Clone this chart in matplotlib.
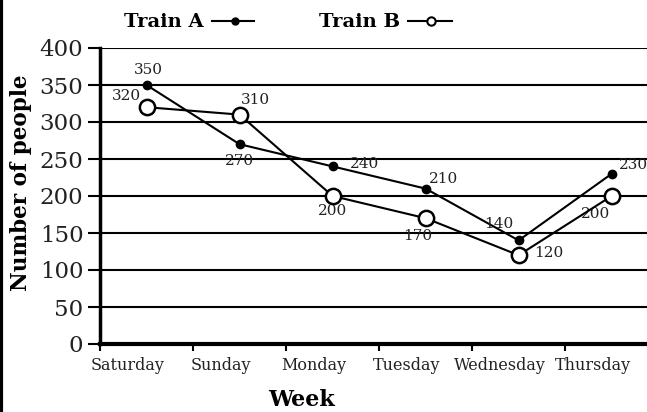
import matplotlib.pyplot as plt
from matplotlib.lines import Line2D

# data
days = ["Saturday", "Sunday", "Monday", "Tuesday", "Wednesday", "Thursday"]
train_a = [350, 270, 240, 210, 140, 230]
train_b = [320, 310, 200, 170, 120, 200]
y_ticks = [0, 50, 100, 150, 200, 250, 300, 350, 400]

# label offsets in pixels (label placement around each point)
off_a = [(2, 15), (0, -17), (32, 2), (18, 10), (-20, 16), (22, 9)]
off_b = [(-20, 11), (16, 15), (0, -15), (-8, -18), (30, 2), (-16, -18)]

fig = plt.figure(figsize=(6.47, 4.12), dpi=100)
ax = fig.add_axes([100 / 647, 68 / 412, 547 / 647, 296 / 412])

xs = [i + 0.5 for i in range(len(days))]

ax.plot(xs, train_a, color='black', lw=1.5, marker='o', markersize=6,
        markerfacecolor='black', zorder=3)
ax.plot(xs, train_b, color='black', lw=1.5, marker='o', markersize=11,
        markerfacecolor='white', markeredgewidth=1.8, zorder=4)

for x, v, o in zip(xs, train_a, off_a):
    ax.annotate(str(v), (x, v), xytext=o, textcoords='offset pixels',
                ha='center', va='center', fontsize=11, family='DejaVu Serif',
                color='#222222')
for x, v, o in zip(xs, train_b, off_b):
    ax.annotate(str(v), (x, v), xytext=o, textcoords='offset pixels',
                ha='center', va='center', fontsize=11, family='DejaVu Serif',
                color='#222222')

ax.set_xlim(0, 5.88)
ax.set_ylim(0, 400)
ax.set_yticks(y_ticks)
ax.set_yticklabels([str(t) for t in y_ticks], family='DejaVu Serif', fontsize=16.5,
                   color='#222222', fontweight='light')
ax.yaxis.grid(True, color='black', lw=1.5)
ax.set_axisbelow(True)

ax.set_xticks(range(len(days)))
ax.set_xticklabels([])
ax.set_xticks([i + 0.3 for i in range(len(days))], minor=True)
ax.set_xticklabels(days, minor=True, family='DejaVu Serif', fontsize=11.5,
                   color='#222222')
ax.tick_params(axis='x', which='major', length=5, width=1.5, direction='out')
ax.tick_params(axis='x', which='minor', length=0, pad=9)
ax.tick_params(axis='y', length=9, width=1.5, pad=3)

for s in ['top', 'right']:
    ax.spines[s].set_visible(False)
ax.spines['left'].set_linewidth(2.5)
ax.spines['bottom'].set_linewidth(3)

ax.set_ylabel("Number of people", family='DejaVu Serif', fontweight='bold',
              fontsize=15.5)
ax.yaxis.set_label_coords(-0.125, 0.545)
fig.text(301 / 647, 1 - 400 / 412, "Week", family='DejaVu Serif',
         fontweight='bold', fontsize=16, ha='center', va='center')

# legend drawn at the top
fig.text(164 / 647, 1 - 22 / 412, "Train A", family='DejaVu Serif',
         fontweight='bold', fontsize=14, ha='center', va='center')
fig.add_artist(Line2D([212 / 647, 254 / 647], [1 - 21 / 412, 1 - 21 / 412],
                      color='black', lw=1.5, marker=None))
fig.add_artist(Line2D([235 / 647], [1 - 21 / 412], color='black',
                      marker='o', markersize=5))
fig.text(360 / 647, 1 - 22 / 412, "Train B", family='DejaVu Serif',
         fontweight='bold', fontsize=14, ha='center', va='center')
fig.add_artist(Line2D([408 / 647, 452 / 647], [1 - 21 / 412, 1 - 21 / 412],
                      color='black', lw=1.5))
fig.add_artist(Line2D([431 / 647], [1 - 21 / 412], color='black', marker='o',
                      markersize=6, markerfacecolor='white', markeredgewidth=1.5))

# left frame line
fig.add_artist(Line2D([0.002, 0.002], [0, 1], color='black', lw=3))

fig.savefig("out.png", dpi=100)
